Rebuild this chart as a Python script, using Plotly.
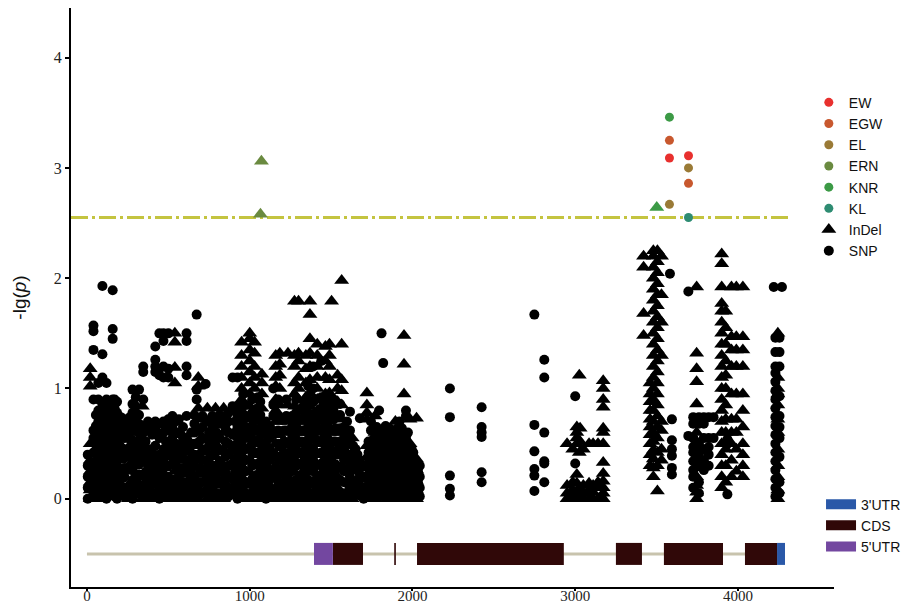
import plotly.graph_objects as go

# ---------------- data ----------------
# black SNPs: position (bp) and the -lg(p) values observed at that position
snp_pos = [40, 70, 95, 120, 158, 185, 230, 280, 320, 346, 375, 420, 445, 470, 500, 525, 565, 612,
           660, 674, 710, 729, 770, 815, 870, 895, 925, 975, 1050, 1100, 1125, 1145, 1210, 1260,
           1320, 1390, 1440, 1515, 1580, 1616, 1650, 1677, 1700, 1745, 1795, 1810, 1820, 1870,
           1920, 1960, 2005, 2045, 2230, 2425, 2749, 2810, 3000, 3582, 3594, 3695, 3725, 3760,
           3790, 3820, 3850, 3935, 4220, 4230, 4255, 4270,
           5, 55, 108, 140, 170, 208, 265, 300, 360, 400, 432, 485, 545, 590, 640, 690, 750, 795,
           850, 910, 960, 1015, 1065, 1112, 1175, 1225, 1285, 1335, 1360, 1405, 1452, 1480, 1528,
           1555, 1598, 1635, 1662, 1730, 1760, 1780, 1808, 1835, 1858, 1882, 1908, 1935, 1972,
           1995, 2015, 2035]
snp_lgp = [
    [0.05, 0.12, 0.2, 0.3, 0.42, 0.55, 0.62, 0.9, 1.35, 1.52, 1.57],
    [0.02, 0.1, 0.18, 0.27, 0.36, 0.45, 0.52, 0.6, 0.7, 0.8, 0.9, 1.05],
    [0.05, 0.14, 0.3, 0.5, 0.75, 0.86, 1.1, 1.31, 1.93],
    [0.0, 0.08, 0.16, 0.24, 0.33, 0.41, 0.5, 0.58, 0.67, 0.76, 0.84, 0.9, 1.05],
    [0.1, 0.25, 0.4, 0.6, 0.72, 0.82, 0.9, 1.45, 1.54, 1.89],
    [0.0, 0.07, 0.15, 0.22, 0.3, 0.38, 0.46, 0.53, 0.62, 0.7, 0.78, 0.88],
    [0.02, 0.1, 0.2, 0.28, 0.37, 0.45, 0.55, 0.65, 0.72],
    [0.0, 0.08, 0.17, 0.26, 0.35, 0.44, 0.53, 0.62, 0.7, 0.78, 0.86, 0.99],
    [0.05, 0.13, 0.22, 0.31, 0.4, 0.5, 0.6, 0.68, 0.76, 0.99],
    [0.46, 0.6, 0.9, 1.15, 1.2],
    [0.02, 0.1, 0.18, 0.27, 0.36, 0.45, 0.62, 0.7],
    [0.05, 0.14, 0.23, 0.32, 0.48, 0.65, 0.7, 1.15, 1.2, 1.26, 1.38],
    [0.0, 0.1, 0.2, 0.3, 0.4, 0.55, 0.68, 1.12, 1.18, 1.5],
    [0.03, 0.12, 0.22, 0.35, 0.45, 0.6, 0.7, 1.1, 1.2, 1.43, 1.5],
    [0.02, 0.1, 0.2, 0.3, 0.4, 0.5, 0.62, 0.72, 1.1, 1.18, 1.5],
    [0.05, 0.15, 0.32, 0.45, 0.55, 0.65, 0.75],
    [0.02, 0.1, 0.2, 0.28, 0.38, 0.48, 0.6, 0.72],
    [0.05, 0.14, 0.25, 0.35, 0.45, 0.55, 0.75, 1.12, 1.2, 1.43, 1.5],
    [0.02, 0.1, 0.2, 0.3, 0.4, 0.5, 0.6, 0.68, 0.76],
    [0.9, 0.99, 1.67],
    [0.05, 0.15, 0.25, 0.35, 0.45, 0.55, 0.65, 0.75],
    [1.04],
    [0.02, 0.1, 0.2, 0.3, 0.4, 0.55, 0.65, 0.75],
    [0.04, 0.14, 0.24, 0.34, 0.44, 0.55, 0.68, 0.76],
    [0.02, 0.1, 0.2, 0.3, 0.4, 0.5, 0.6, 0.7, 0.78],
    [0.05, 0.18, 0.32, 0.45, 0.58, 0.84, 1.1],
    [0.0, 0.1, 0.2, 0.3, 0.42, 0.55, 0.65, 0.75, 0.84, 1.1],
    [0.05, 0.15, 0.25, 0.35, 0.45, 0.55, 0.65, 0.75, 0.85],
    [0.02, 0.12, 0.22, 0.32, 0.42, 0.52, 0.62, 0.72, 0.82, 0.92],
    [0.0, 0.1, 0.2, 0.3, 0.4, 0.5, 0.6, 0.7],
    [0.02, 0.1, 0.18, 0.26, 0.35, 0.45, 0.55, 0.65],
    [0.05, 0.2, 0.4, 0.6, 0.75, 0.85, 1.0],
    [0.02, 0.12, 0.22, 0.32, 0.42, 0.52, 0.62, 0.72],
    [0.05, 0.15, 0.25, 0.35, 0.45, 0.55, 0.65, 0.75],
    [0.02, 0.12, 0.22, 0.32, 0.42, 0.52, 0.62, 0.72, 0.82],
    [0.05, 0.15, 0.25, 0.35, 0.45, 0.55, 0.65, 0.75, 0.88, 1.0, 1.2],
    [0.02, 0.12, 0.22, 0.32, 0.42, 0.52, 0.62, 0.72, 0.82, 0.92, 1.25],
    [0.02, 0.12, 0.22, 0.32, 0.42, 0.52, 0.62, 0.72, 0.82, 0.9],
    [0.05, 0.15, 0.25, 0.35, 0.45, 0.55, 0.65],
    [0.02, 0.1, 0.2, 0.3, 0.4, 0.5, 0.62, 0.79],
    [0.05, 0.15, 0.3, 0.45],
    [0.03, 0.12, 0.22, 0.35, 0.73],
    [0.0, 0.1, 0.2, 0.3],
    [0.02, 0.1, 0.18, 0.26, 0.34, 0.42, 0.5, 0.62, 0.7],
    [0.02, 0.1, 0.18, 0.26, 0.34, 0.42, 0.5, 0.58, 0.8],
    [1.5],
    [0.05, 0.14, 0.24, 0.34, 0.44, 0.54, 0.62, 1.23],
    [0.02, 0.1, 0.18, 0.26, 0.34, 0.42, 0.5, 0.58],
    [0.02, 0.1, 0.18, 0.26, 0.34, 0.42, 0.5, 0.6, 0.7],
    [0.05, 0.15, 0.25, 0.35, 0.45, 0.55, 0.75, 0.8],
    [0.02, 0.12, 0.22, 0.32, 0.42],
    [0.02, 0.1, 0.2, 0.3],
    [0.03, 0.09, 0.21, 0.74, 1.0],
    [0.15, 0.24, 0.56, 0.6, 0.65, 0.83],
    [0.07, 0.21, 0.27, 0.43, 0.67, 1.67],
    [0.15, 0.32, 0.34, 0.6, 1.1, 1.26],
    [0.32, 0.93],
    [2.04],
    [0.22, 0.28, 0.39, 0.45, 0.53, 0.72],
    [0.57, 1.88],
    [0.1, 0.2, 0.26, 0.34, 0.42, 0.47, 0.55, 0.68, 0.74],
    [0.05, 0.15, 0.3, 0.4, 0.5, 0.68, 0.74],
    [0.26, 0.35, 0.45, 0.55, 0.68, 0.74],
    [0.3, 0.4, 0.47, 0.55, 0.74],
    [0.55, 0.74],
    [0.04, 0.5, 0.54],
    [1.92],
    [0.02, 0.1, 0.18, 0.26, 0.34, 0.42, 0.5, 0.58, 0.66, 0.74, 0.82, 0.9, 0.98, 1.06, 1.14, 1.2, 1.33, 1.46],
    [0.05, 0.15, 0.38, 0.55, 0.65, 0.75, 0.93, 1.2, 1.33, 1.46],
    [1.92],
    # second pass over the dense block
    [0.0, 0.1, 0.2, 0.3, 0.4],
    [0.04, 0.14, 0.24, 0.34, 0.44, 0.56, 0.66, 0.76],
    [0.04, 0.12, 0.2, 0.28, 0.37, 0.46, 0.55, 0.63, 0.72, 0.8],
    [0.04, 0.12, 0.2, 0.28, 0.36, 0.5, 0.64, 0.7, 0.78, 0.86],
    [0.02, 0.11, 0.19, 0.27, 0.34, 0.42, 0.5, 0.58, 0.66, 0.74, 0.82, 0.9],
    [0.04, 0.12, 0.26, 0.42, 0.58, 0.66, 0.74],
    [0.04, 0.13, 0.3, 0.47, 0.54, 0.66, 0.74],
    [0.08, 0.22, 0.38, 0.52, 0.66, 0.78, 0.92],
    [0.05, 0.14, 0.24, 0.33, 0.42, 0.52, 0.66],
    [0.14, 0.25, 0.35, 0.45, 0.58, 0.66],
    [0.05, 0.16, 0.27, 0.37, 0.6],
    [0.06, 0.17, 0.4, 0.52, 0.66],
    [0.06, 0.18, 0.3, 0.42, 0.5, 0.6, 0.7],
    [0.05, 0.15, 0.28, 0.42, 0.55, 0.65],
    [0.05, 0.14, 0.24, 0.36, 0.48, 0.6],
    [0.05, 0.15, 0.28, 0.4, 0.52, 0.62],
    [0.05, 0.15, 0.25, 0.36, 0.48, 0.6, 0.7],
    [0.05, 0.18, 0.3, 0.44, 0.6, 0.7],
    [0.05, 0.13, 0.24, 0.38, 0.52, 0.65, 0.75],
    [0.05, 0.15, 0.25, 0.36, 0.48, 0.6, 0.7, 0.8],
    [0.05, 0.15, 0.25, 0.35, 0.45, 0.55, 0.65, 0.75, 0.85, 0.95],
    [0.05, 0.18, 0.3, 0.42, 0.54, 0.66, 0.78, 0.9],
    [0.05, 0.16, 0.28, 0.4, 0.52, 0.64, 0.76, 0.88],
    [0.05, 0.14, 0.25, 0.36, 0.46, 0.56, 0.66],
    [0.05, 0.15, 0.26, 0.38, 0.5, 0.62, 0.75, 0.9],
    [0.05, 0.16, 0.27, 0.38, 0.5, 0.62, 0.75, 0.9],
    [0.05, 0.17, 0.3, 0.42, 0.54, 0.66, 0.78, 0.9],
    [0.05, 0.16, 0.27, 0.38, 0.5, 0.62, 0.74, 0.86],
    [0.05, 0.17, 0.3, 0.42, 0.54, 0.66, 0.78, 0.9, 1.02],
    [0.05, 0.17, 0.3, 0.42, 0.54, 0.66, 0.78, 0.9],
    [0.05, 0.17, 0.28, 0.4, 0.52, 0.64, 0.76, 0.88],
    [0.06, 0.18, 0.3, 0.42, 0.54, 0.66, 0.78, 0.9],
    [0.05, 0.17, 0.28, 0.4, 0.52, 0.64, 0.76],
    [0.05, 0.17, 0.28, 0.4, 0.52, 0.64, 0.76, 0.86],
    [0.05, 0.14, 0.26, 0.38, 0.5, 0.6, 0.7],
    [0.04, 0.15, 0.35, 0.48],
    [0.04, 0.17, 0.27, 0.4],
    [0.04, 0.13, 0.22, 0.32, 0.42, 0.52],
    [0.04, 0.14, 0.24, 0.34, 0.44, 0.54, 0.62],
    [0.05, 0.15, 0.25, 0.35, 0.45, 0.55, 0.65],
    [0.05, 0.14, 0.22, 0.3, 0.38, 0.46, 0.54, 0.62],
    [0.06, 0.15, 0.24, 0.33, 0.42, 0.5, 0.58, 0.66],
    [0.06, 0.14, 0.22, 0.3, 0.38, 0.46, 0.54, 0.64],
    [0.06, 0.14, 0.22, 0.3, 0.38, 0.46, 0.54, 0.62],
    [0.06, 0.14, 0.22, 0.3, 0.38, 0.46, 0.54, 0.64],
    [0.06, 0.14, 0.22, 0.3, 0.38, 0.46, 0.54, 0.64],
    [0.06, 0.14, 0.22, 0.3, 0.4, 0.5, 0.6],
    [0.06, 0.14, 0.24, 0.34, 0.45],
    [0.05, 0.15, 0.25, 0.35],
    [0.05, 0.14, 0.24],
]

# black InDels
indel_pos = [20, 85, 135, 200, 255, 300, 340, 395, 480, 540, 585, 630, 684, 740, 790, 840, 950, 1000,
             1030, 1075, 1160, 1185, 1235, 1275, 1300, 1345, 1370, 1415, 1465, 1490, 1503, 1540,
             1565, 1630, 1720, 1770, 1845, 1895, 1948, 1985, 2025, 2950, 2985, 3010, 3025, 3030,
             3050, 3085, 3110, 3140, 3172, 3420, 3460, 3480, 3505, 3530, 3746, 3900, 3925, 3960,
             3990, 4030, 4245]
indel_lgp = [
    [0.0, 0.08, 0.15, 0.25, 0.35, 0.5, 1.02, 1.1, 1.18],
    [0.0, 0.22, 0.4, 0.65],
    [0.03, 0.12, 0.3, 0.45, 0.55],
    [0.02, 0.18, 0.35, 0.5],
    [0.0, 0.1, 0.25, 0.4, 0.6],
    [0.03, 0.15, 0.3, 0.45, 0.6, 0.72, 0.85],
    [0.0, 0.1, 0.2, 0.38, 0.55, 0.84],
    [0.0, 0.08, 0.2, 0.3, 0.4],
    [0.0, 0.15, 0.28],
    [0.0, 0.12, 0.25, 0.38, 1.05, 1.19, 1.42, 1.5],
    [0.0, 0.1, 0.22, 0.35, 0.5, 0.58],
    [0.0, 0.08, 0.18, 0.3, 0.42, 0.52],
    [0.0, 0.1, 0.22, 0.35, 0.48, 0.6, 0.72, 0.82, 1.02, 1.1],
    [0.0, 0.1, 0.2, 0.3, 0.42, 0.53, 0.7, 0.82],
    [0.0, 0.12, 0.25, 0.38, 0.5, 0.82],
    [0.0, 0.08, 0.18, 0.3, 0.45, 0.6, 0.7, 0.82],
    [0.0, 0.1, 0.2, 0.3, 0.4, 0.5, 0.6, 0.7, 0.8, 0.9, 1.0, 1.1, 1.2, 1.3, 1.42],
    [0.0, 0.12, 0.24, 0.36, 0.48, 0.6, 0.72, 0.84, 0.95, 1.05, 1.15, 1.25, 1.35, 1.45, 1.5],
    [0.0, 0.1, 0.2, 0.3, 0.4, 0.5, 0.6, 0.7, 0.8, 0.9, 1.0, 1.1, 1.2, 1.32, 1.42],
    [0.0, 0.1, 0.22, 0.34, 0.46, 0.58, 0.7, 0.82, 0.95, 1.05, 1.13],
    [0.0, 0.1, 0.2, 0.3, 0.4, 0.5, 0.6, 0.7, 0.8, 0.9, 1.02, 1.1, 1.2, 1.3],
    [0.0, 0.1, 0.22, 0.34, 0.46, 0.58, 0.7, 0.85, 1.0, 1.12, 1.22, 1.32],
    [0.0, 0.1, 0.2, 0.3, 0.4, 0.5, 0.6, 0.7, 0.85, 1.32],
    [0.0, 0.12, 0.24, 0.36, 0.48, 0.6, 0.72, 0.84, 0.95, 1.05, 1.2, 1.3, 1.79],
    [0.0, 0.1, 0.2, 0.3, 0.4, 0.5, 0.6, 0.7, 0.8, 0.9, 1.0, 1.1, 1.25, 1.32, 1.79],
    [0.0, 0.1, 0.2, 0.3, 0.4, 0.5, 0.6, 0.7, 0.8, 0.92, 1.05, 1.18, 1.3],
    [0.0, 0.12, 0.24, 0.36, 0.48, 0.6, 0.72, 0.84, 0.96, 1.08, 1.2, 1.32, 1.45, 1.67, 1.79],
    [0.0, 0.1, 0.2, 0.3, 0.4, 0.5, 0.6, 0.7, 0.8, 0.9, 1.0, 1.1, 1.2, 1.3, 1.4],
    [0.0, 0.1, 0.22, 0.34, 0.46, 0.58, 0.7, 0.82, 0.95, 1.1, 1.25, 1.38],
    [0.0, 0.12, 0.24, 0.36, 0.48, 0.6, 0.72, 0.84, 0.96, 1.08, 1.2, 1.3, 1.4],
    [1.79],
    [0.0, 0.1, 0.2, 0.3, 0.45, 0.6, 0.75, 0.88, 1.0, 1.12],
    [0.0, 0.15, 0.3, 0.45, 0.6, 0.72, 0.85, 0.98, 1.08, 1.4, 1.98],
    [0.0, 0.1, 0.25, 0.4, 0.55],
    [0.0, 0.08, 0.18, 0.28, 0.38, 0.48, 0.72, 0.78, 0.85, 0.96],
    [0.0, 0.1, 0.2, 0.3, 0.4, 0.5, 0.6, 0.75],
    [0.0, 0.1, 0.2, 0.3, 0.4, 0.5, 0.6],
    [0.0, 0.1, 0.2, 0.3, 0.4, 0.5, 0.6, 0.7],
    [0.0, 0.1, 0.2, 0.3, 0.4, 0.5, 0.6, 0.95, 1.22, 1.48],
    [0.0, 0.1, 0.2, 0.3, 0.4, 0.5, 0.72],
    [0.0, 0.08, 0.16, 0.26, 0.36, 0.73],
    [0.0, 0.05, 0.12, 0.5],
    [0.0, 0.08, 0.15, 0.45],
    [0.0, 0.06, 0.14, 0.22, 0.5, 0.55, 0.6, 0.65],
    [0.0, 0.1, 0.42, 1.12],
    [0.52, 0.64],
    [0.0, 0.05, 0.12, 0.45],
    [0.0, 0.08, 0.14, 0.5],
    [0.0, 0.06, 0.12, 0.5],
    [0.0, 0.1, 0.15, 0.5],
    [0.0, 0.05, 0.1, 0.16, 0.23, 0.33, 0.5, 0.6, 0.64, 0.83, 0.9, 1.0, 1.07],
    [1.48, 1.68, 2.1, 2.2],
    [0.3, 0.4, 0.5, 0.58, 0.65, 0.72, 0.8, 0.88, 0.95, 1.05],
    [0.2, 0.28, 0.36, 0.44, 0.52, 0.6, 0.7, 0.8, 0.9, 1.0, 1.1, 1.2, 1.3, 1.4, 1.5, 1.6, 1.7, 1.8, 1.9, 2.0, 2.1, 2.2, 2.25],
    [0.07, 0.3, 0.42, 0.55, 0.65, 0.75, 0.85, 0.95, 1.05, 1.15, 1.25, 1.35, 1.45, 1.55, 1.65, 1.75, 1.85, 1.95, 2.05, 2.15, 2.25],
    [0.35, 0.45, 0.62, 0.7, 1.3, 1.6, 1.85, 2.2],
    [0.0, 0.06, 0.12, 0.2, 0.28, 0.36, 0.44, 0.52, 0.6, 0.86, 1.06, 1.18, 1.32, 1.92],
    [0.1, 0.2, 0.3, 0.4, 0.5, 0.6, 0.7, 0.8, 0.9, 1.0, 1.1, 1.2, 1.3, 1.4, 1.5, 1.6, 1.7, 1.77, 1.92, 2.13, 2.22],
    [0.15, 0.3, 0.45, 0.6, 0.72, 0.85, 1.0, 1.12, 1.25, 1.4, 1.55, 1.7],
    [0.2, 0.35, 0.5, 0.6, 0.72, 0.95, 1.2, 1.35, 1.47, 1.92],
    [0.25, 0.45, 0.6, 0.72, 0.95, 1.2, 1.35, 1.47, 1.92],
    [0.2, 0.3, 0.4, 0.5, 0.65, 0.8, 0.95, 1.2, 1.35, 1.47, 1.92],
    [0.0, 0.08, 0.2, 0.3, 0.45, 0.6, 0.72, 0.85, 0.95, 1.0, 1.1, 1.5],
]

# significant loci, per trait
traits = ["EW", "EGW", "EL", "ERN", "KNR", "KL"]
trait_colors = ["#E8302E", "#C8582E", "#9A7A36", "#6A8A40", "#3C9A46", "#2E8C72"]
trait_snp_pos = [[3579, 3696], [3579, 3696], [3579, 3696], [], [3579], [3696]]
trait_snp_lgp = [[3.09, 3.11], [3.25, 2.86], [2.67, 3.0], [], [3.46], [2.55]]
trait_indel_pos = [[], [], [], [1072, 1066], [3501], []]
trait_indel_lgp = [[], [], [], [3.06, 2.58], [2.64], []]

threshold = 2.55
threshold_span = [-98, 4330]

# gene structure
gene_start, gene_end, gene_track_y = 0, 4289, -0.5
feature_names = ["3'UTR", "CDS", "5'UTR"]
feature_colors = ["#2A58A8", "#300808", "#7347A0"]
feature_starts = [[4240], [1511, 1888, 2028, 3250, 3545, 4043], [1395]]
feature_ends = [[4289], [1696, 1898, 2930, 3410, 3908, 4240], [1511]]

x_ticks = [0, 1000, 2000, 3000, 4000]
y_ticks = [0, 1, 2, 3, 4]


def flatten(pos, vals):
    xs, ys = [], []
    for p, v in zip(pos, vals):
        xs += [p] * len(v)
        ys += v
    return xs, ys


fig = go.Figure()

# gene backbone and features
fig.add_trace(go.Scatter(x=[gene_start, gene_end], y=[gene_track_y, gene_track_y], mode="lines",
                         line=dict(color="#C8C3AD", width=3), showlegend=False, hoverinfo="skip"))
for name, col, st, en in zip(feature_names, feature_colors, feature_starts, feature_ends):
    xs, ys = [], []
    for a, b in zip(st, en):
        xs += [a, b, None]
        ys += [gene_track_y, gene_track_y, None]
    fig.add_trace(go.Scatter(x=xs, y=ys, mode="lines", name=name, line=dict(color=col, width=22),
                             legend="legend2", hoverinfo="skip"))

# threshold
fig.add_trace(go.Scatter(x=threshold_span, y=[threshold, threshold], mode="lines",
                         line=dict(color="#C4C440", width=3, dash="17px,4px,3px,4px"),
                         showlegend=False, hoverinfo="skip"))

# black points
sx, sy = flatten(snp_pos, snp_lgp)
ix, iy = flatten(indel_pos, indel_lgp)
fig.add_trace(go.Scatter(x=sx, y=sy, mode="markers", name="SNP", legendrank=8,
                         marker=dict(symbol="circle", size=10, color="black")))
fig.add_trace(go.Scatter(x=ix, y=iy, mode="markers", name="InDel", legendrank=7,
                         marker=dict(symbol="triangle-up", size=13, color="black")))

# trait points
for k, (t, c) in enumerate(zip(traits, trait_colors)):
    fig.add_trace(go.Scatter(x=trait_indel_pos[k] or [None], y=trait_indel_lgp[k] or [None], mode="markers",
                             name=t, legendgroup=t, showlegend=False,
                             marker=dict(symbol="triangle-up", size=13, color=c)))
    fig.add_trace(go.Scatter(x=trait_snp_pos[k] or [None], y=trait_snp_lgp[k] or [None], mode="markers",
                             name=t, legendgroup=t, legendrank=k + 1,
                             marker=dict(symbol="circle", size=9, color=c)))

axis_common = dict(showline=True, linecolor="black", linewidth=2, ticks="outside",
                   tickwidth=1.5, tickcolor="black", showgrid=False, zeroline=False)

# the page body adds an 8px offset, so the figure is 8px smaller than the window
fig.update_layout(
    width=909, height=596,
    margin=dict(l=63, r=83, t=0, b=17),
    paper_bgcolor="white", plot_bgcolor="white",
    xaxis=dict(range=[-98, 4590], tickvals=x_ticks, automargin=False, ticklen=2, ticklabelstandoff=-8,
               tickfont=dict(family="Liberation Serif", size=15, color="#222"), **axis_common),
    yaxis=dict(range=[-0.8, 4.45], tickvals=y_ticks, automargin=False, ticklen=4,
               tickfont=dict(family="Liberation Serif", size=16, color="#222"),
               title=dict(text="-lg(<i>p</i>)", font=dict(family="Liberation Sans", size=19, color="#111"),
                          standoff=22),
               **axis_common),
    legend=dict(x=0.967, y=0.864, xanchor="left", yanchor="top", bgcolor="rgba(0,0,0,0)",
                font=dict(family="Liberation Sans", size=14, color="#111"),
                tracegroupgap=0, itemclick=False),
    legend2=dict(x=0.983, y=0.17, xanchor="left", yanchor="top", bgcolor="rgba(0,0,0,0)",
                 font=dict(family="Liberation Sans", size=14, color="#111"),
                 tracegroupgap=0),
    showlegend=True,
)

fig.write_html("out.html")
